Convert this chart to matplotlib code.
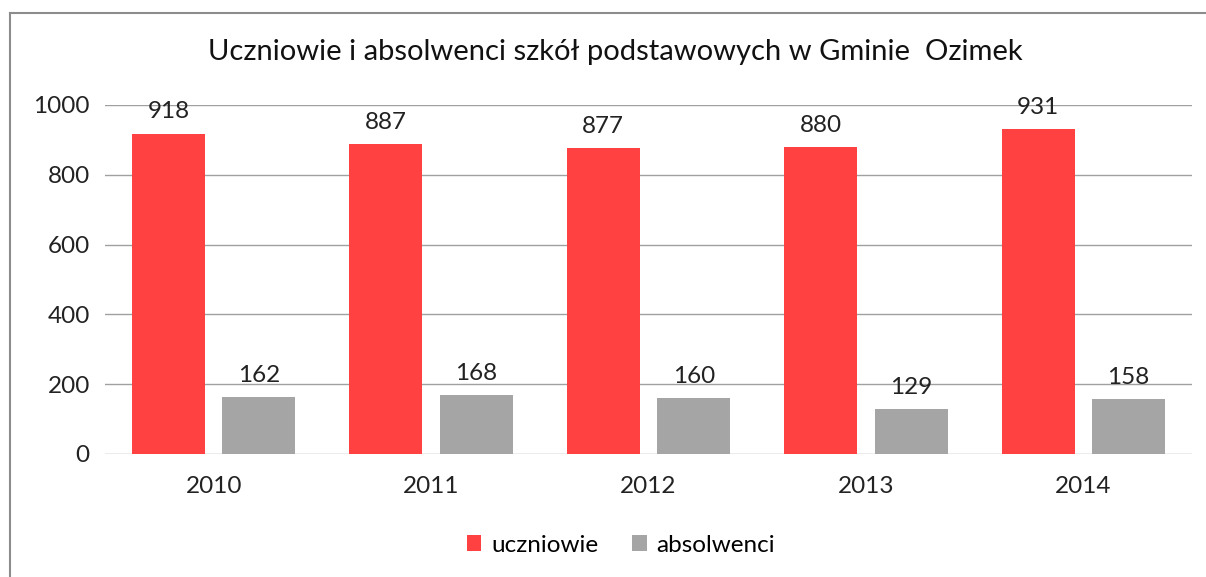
import numpy as np
import matplotlib.pyplot as plt
from matplotlib.lines import Line2D

years = ["2010", "2011", "2012", "2013", "2014"]
uczniowie = [918, 887, 877, 880, 931]
absolwenci = [162, 168, 160, 129, 158]

RED = "#FF4141"
GRAY = "#A5A5A5"


def main():
    plt.rcParams["font.family"] = ["Lato", "DejaVu Sans"]
    fig = plt.figure(figsize=(12.06, 5.77), dpi=100)
    ax = fig.add_axes([0.0871, 0.2132, 0.9013, 0.6049])

    x = np.arange(len(years))
    w = 0.336
    gap = 0.08
    b1 = ax.bar(x - (w + gap) / 2, uczniowie, w, color=RED, label="uczniowie")
    b2 = ax.bar(x + (w + gap) / 2, absolwenci, w, color=GRAY, label="absolwenci")

    for bars, vals in ((b1, uczniowie), (b2, absolwenci)):
        for bar, v in zip(bars, vals):
            ax.annotate(str(v), (bar.get_x() + bar.get_width() / 2, v),
                        xytext=(0, 8), textcoords="offset points",
                        ha="center", va="bottom", fontsize=17.5, color="#222222")

    ax.set_xlim(-0.5, len(years) - 0.5)
    ax.set_ylim(0, 1000)
    ax.set_yticks(range(0, 1001, 200))
    ax.set_xticks(x)
    ax.set_xticklabels(years)
    ax.yaxis.grid(True, color="#A0A0A0", linewidth=1)
    ax.set_axisbelow(True)
    for s in ax.spines.values():
        s.set_visible(False)
    ax.tick_params(axis="both", length=0, labelsize=17.5, colors="#222222")
    ax.tick_params(axis="x", pad=16)
    ax.tick_params(axis="y", pad=11)

    fig.text(0.51, 0.91, "Uczniowie i absolwenci szkół podstawowych w Gminie  Ozimek",
             ha="center", va="center", fontsize=21, color="#111111")

    fig.legend(handles=[b1, b2], loc="center", bbox_to_anchor=(0.515, 0.055),
               ncol=2, frameon=False, fontsize=17.5, handlelength=0.6,
               handleheight=0.6, columnspacing=1.4, handletextpad=0.4)

    # outer chart border (only left and top visible)
    fig.add_artist(Line2D([0.008, 0.008], [0.0, 0.977], color="#8C8C8C", lw=1.5))
    fig.add_artist(Line2D([0.008, 1.0], [0.977, 0.977], color="#8C8C8C", lw=1.5))

    fig.savefig("out.png", dpi=100)


if __name__ == "__main__":
    main()
